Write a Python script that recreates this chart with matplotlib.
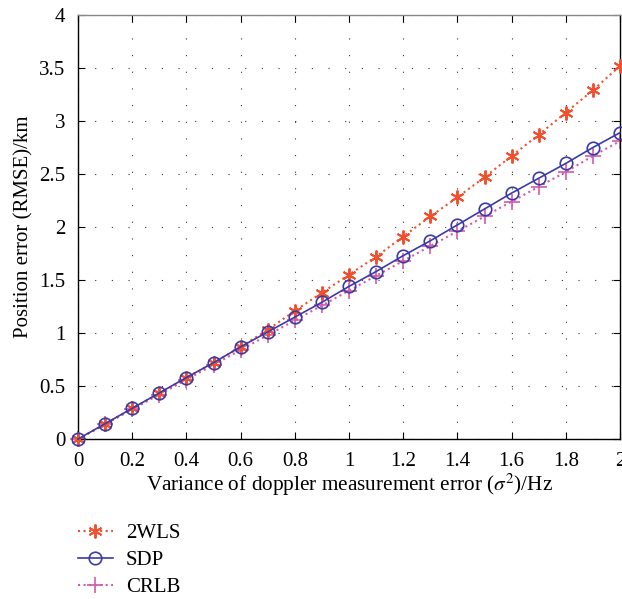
import numpy as np
import matplotlib.pyplot as plt

plt.rcParams['font.family'] = ['Liberation Serif', 'DejaVu Serif']
plt.rcParams['mathtext.fontset'] = 'stix'

variance = [0, 0.1, 0.2, 0.3, 0.4, 0.5, 0.6, 0.7, 0.8, 0.9, 1.0,
            1.1, 1.2, 1.3, 1.4, 1.5, 1.6, 1.7, 1.8, 1.9, 2.0]
wls2 = [0, 0.14, 0.29, 0.43, 0.58, 0.72, 0.87, 1.03, 1.21, 1.38, 1.55,
        1.72, 1.91, 2.10, 2.28, 2.47, 2.67, 2.87, 3.08, 3.29, 3.52]
sdp = [0, 0.145, 0.29, 0.435, 0.58, 0.72, 0.87, 1.01, 1.15, 1.29, 1.44,
       1.58, 1.73, 1.87, 2.02, 2.17, 2.32, 2.46, 2.60, 2.75, 2.89]
crlb = [0, 0.14, 0.28, 0.42, 0.56, 0.70, 0.84, 0.98, 1.12, 1.26, 1.40,
        1.54, 1.68, 1.82, 1.96, 2.10, 2.24, 2.38, 2.52, 2.67, 2.81]

fig = plt.figure(figsize=(6.22, 5.99), dpi=100)
ax = fig.add_axes([0.1254, 0.267, 0.8714, 0.708])

ax.plot(variance, wls2, linestyle=':', color='#f0502e', marker=(6, 2, 0), markersize=10,
        markeredgewidth=1.4, label='2WLS', clip_on=False, zorder=3)
ax.plot(variance, sdp, linestyle='-', color='#3a3aa8', marker='o', markersize=9,
        markerfacecolor='none', markeredgewidth=1.2, linewidth=1.2, label='SDP',
        clip_on=False, zorder=4)
ax.plot(variance, crlb, linestyle=':', color='#d45aaa', marker='+', markersize=11,
        markeredgewidth=1.2, label='CRLB', clip_on=False, zorder=2)

ax.set_xlim(0, 2)
ax.set_ylim(0, 4)
ax.set_xticks(np.arange(0, 2.01, 0.2))
ax.set_xticklabels(['0', '0.2', '0.4', '0.6', '0.8', '1', '1.2', '1.4', '1.6', '1.8', '2'])
ax.set_yticks(np.arange(0, 4.01, 0.5))
ax.set_yticklabels(['0', '0.5', '1', '1.5', '2', '2.5', '3', '3.5', '4'])
ax.grid(True, linestyle=(0, (1, 14)), color='#333333', linewidth=0.8)
ax.tick_params(direction='in', top=True, right=True, labelsize=15, length=5)
ax.tick_params(axis='x', pad=9)
ax.tick_params(axis='y', pad=9)
for s in ax.spines.values():
    s.set_linewidth(1.0)
ax.spines['top'].set_color('#888888')

ax.set_xlabel(r'Variance of doppler measurement error ($\sigma^2$)/Hz', fontsize=15.3, labelpad=1)
ax.set_ylabel('Position error (RMSE)/km', fontsize=15, labelpad=4)

ax.legend(loc='upper left', bbox_to_anchor=(-0.035, -0.155), frameon=False,
          fontsize=15, handlelength=1.7, handletextpad=0.6, labelspacing=0.35)

plt.savefig('out.png', dpi=100)
